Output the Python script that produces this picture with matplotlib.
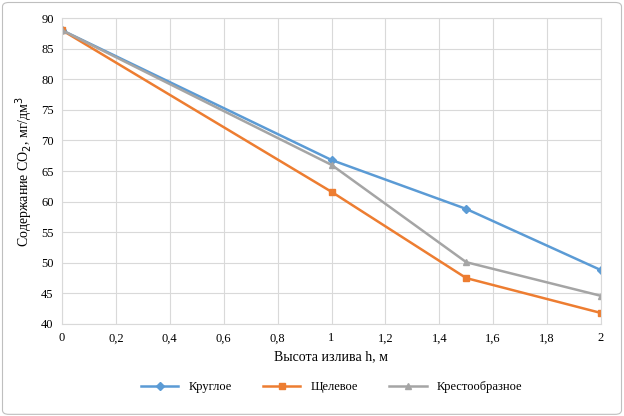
import matplotlib.pyplot as plt
from matplotlib.patches import FancyBboxPatch

# ── Data ──────────────────────────────────────────────
heights = [0, 1, 1.5, 2]
round_vals = [88, 66.8, 58.8, 48.8]
slot_vals = [88, 61.6, 47.5, 41.8]
cross_vals = [88, 66.0, 50.1, 44.6]
x_ticks = [0, 0.2, 0.4, 0.6, 0.8, 1, 1.2, 1.4, 1.6, 1.8, 2]
y_ticks = [40, 45, 50, 55, 60, 65, 70, 75, 80, 85, 90]

plt.rcParams["font.family"] = "Liberation Serif"

# ── Plot ──────────────────────────────────────────────
fig = plt.figure(figsize=(6.24, 4.16), dpi=100)
ax = fig.add_axes([62 / 624, 1 - 324 / 416, (601 - 62) / 624, (324 - 18) / 416])

ax.plot(heights, round_vals, color="#5B9BD5", lw=1.8, marker="D", ms=4, label="Круглое")
ax.plot(heights, slot_vals, color="#ED7D31", lw=1.8, marker="s", ms=4, label="Щелевое")
ax.plot(heights, cross_vals, color="#A5A5A5", lw=1.8, marker="^", ms=5, label="Крестообразное")

ax.set_xlim(0, 2)
ax.set_ylim(40, 90)
ax.set_xticks(x_ticks)
ax.set_xticklabels([f"{t:g}".replace(".", ",") for t in x_ticks])
ax.set_yticks(y_ticks)
ax.tick_params(labelsize=9, length=0, pad=6)
ax.grid(color="#D9D9D9", lw=0.8)
for s in ax.spines.values():
    s.set_color("#D9D9D9")

ax.set_xlabel("Высота излива h, м", fontsize=10, labelpad=4)
ax.set_ylabel("Содержание CO$_2$, мг/дм$^3$", fontsize=10, labelpad=4)

ax.legend(loc="upper center", bbox_to_anchor=(0.5, -0.15), ncol=3, frameon=False,
          fontsize=9, handlelength=3, columnspacing=2.5)

fig.patches.append(FancyBboxPatch((0.004, 0.004), 0.992, 0.99, boxstyle="round,pad=0,rounding_size=0.01",
                                  transform=fig.transFigure, fill=False, ec="#BFBFBF", lw=0.8))

fig.savefig("out.png", dpi=100)
